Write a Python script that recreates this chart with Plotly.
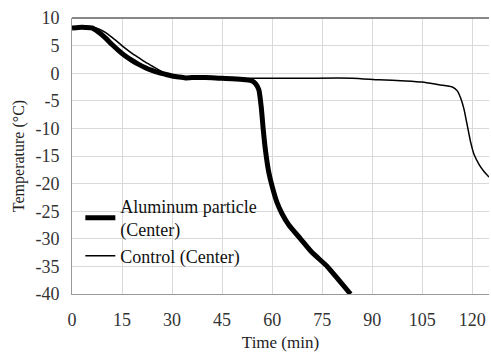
import plotly.graph_objects as go

# Aluminum particle (Center)
al_t = [0, 2, 4, 6, 8, 10, 12, 14, 16, 18, 20, 22, 24, 26, 28, 30, 32, 34, 36, 40, 44, 48, 52, 54, 55,
        56, 56.7, 57.3, 58, 59, 60, 61.5, 63, 65, 68.5, 72, 76.5, 80, 83.5]
al_v = [8.2, 8.3, 8.3, 8.2, 7.4, 6.4, 5.2, 4.1, 3.1, 2.3, 1.6, 1.0, 0.5, 0.1, -0.2, -0.5, -0.7, -0.85, -0.8,
        -0.8, -0.9, -1.0, -1.2, -1.4, -1.9, -3.0, -6, -10, -14, -18, -20.5, -23.5, -25.5, -27.5, -30,
        -32.5, -35, -37.5, -40]

# Control (Center)
ct_t = [0, 4, 6, 8, 10, 12, 14, 16, 18, 20, 22, 24, 26, 28, 30, 34, 40, 50, 60, 70, 84, 92, 100, 105,
        110, 114, 115.5, 116.5, 117.5, 118.5, 119.5, 120.5, 122, 123.5, 125]
ct_v = [8.3, 8.4, 8.4, 8.0, 7.4, 6.5, 5.5, 4.5, 3.6, 2.8, 2.0, 1.3, 0.6, 0.0, -0.4, -0.7, -0.8, -0.9,
        -0.9, -0.9, -0.9, -1.2, -1.4, -1.6, -2.1, -2.5, -3.2, -4.5, -6.5, -9.5, -12.5, -14.7, -16.5,
        -17.8, -18.8]

x_ticks = [0, 15, 30, 45, 60, 75, 90, 105, 120]
y_ticks = [10, 5, 0, -5, -10, -15, -20, -25, -30, -35, -40]
y_labels = ["10", "5", "0", "-5", "-10", "-15", "-20", "-25", "-30", "-35", "-40"]

font = "Liberation Serif"

fig = go.Figure()
fig.add_trace(go.Scatter(x=al_t, y=al_v, mode="lines", name="Aluminum particle<br>(Center)",
                         line=dict(color="black", width=5, shape="spline", smoothing=0.6)))
fig.add_trace(go.Scatter(x=ct_t, y=ct_v, mode="lines", name="Control (Center)",
                         line=dict(color="black", width=1.5, shape="spline", smoothing=0.6)))

fig.update_layout(
    width=491, height=354,
    margin=dict(l=72, r=2, t=18, b=60),
    paper_bgcolor="white", plot_bgcolor="white",
    font=dict(family=font, size=18, color="#222"),
    showlegend=True,
    legend=dict(x=0.02, y=0.385, xanchor="left", yanchor="top", bgcolor="rgba(0,0,0,0)",
                font=dict(family=font, size=18, color="#111"), tracegroupgap=0,
                itemwidth=30),
    xaxis=dict(range=[0, 125], tickvals=x_ticks, showgrid=True, gridcolor="#d9d9d9", gridwidth=1,
               zeroline=False, showline=True, linecolor="#999", linewidth=1, ticks="",
               tickfont=dict(family=font, size=18, color="#333"), ticklabelstandoff=9,
               title=dict(text="Time (min)", font=dict(family=font, size=17, color="#222"), standoff=7)),
    yaxis=dict(range=[-40, 10], tickvals=y_ticks, ticktext=y_labels, showgrid=True,
               gridcolor="#d9d9d9", gridwidth=1, zeroline=False, showline=True,
               linecolor="#999", linewidth=1, ticks="", mirror=False,
               tickfont=dict(family=font, size=18, color="#333"), ticklabelstandoff=8,
               title=dict(text="Temperature (°C)", font=dict(family=font, size=16, color="#222"), standoff=6)),
)
fig.add_shape(type="line", xref="paper", yref="paper", x0=0, x1=1, y0=1, y1=1,
              line=dict(color="#888", width=2))

fig.write_html("out.html")
